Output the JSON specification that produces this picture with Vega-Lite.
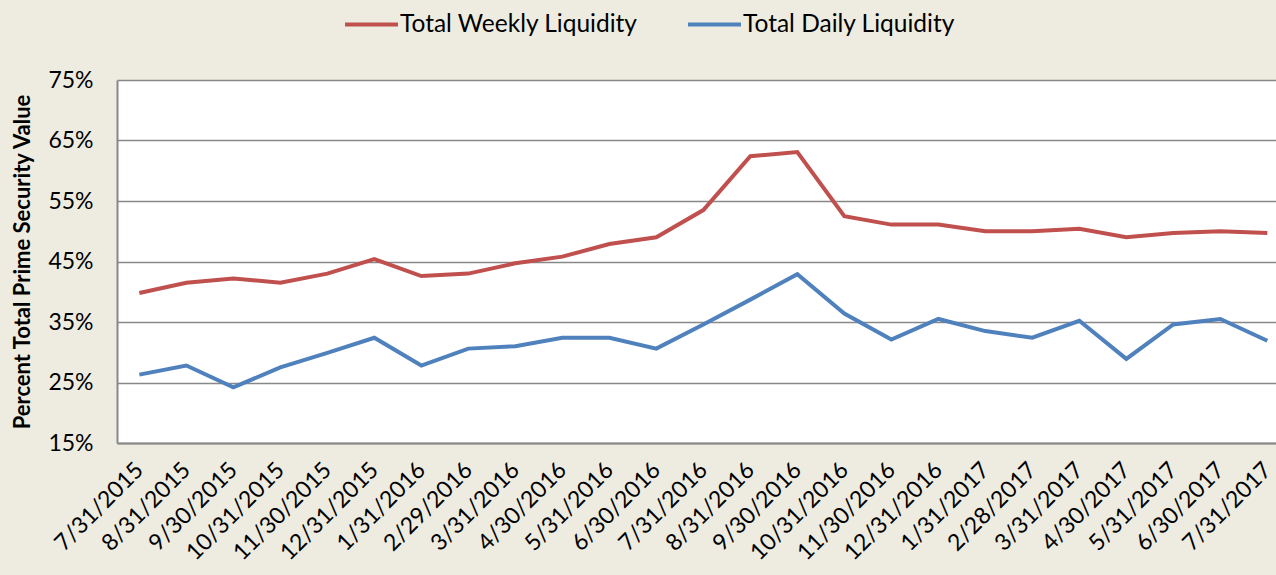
{
  "$schema": "https://vega.github.io/schema/vega-lite/v6.json",
  "autosize": {"type": "none"},
  "padding": {"left": 117, "top": 80, "right": 0, "bottom": 132},
  "width": 1159,
  "height": 363,
  "background": "#EEECE1",
  "config": {
    "view": {"fill": "white", "stroke": null},
    "font": "Lato"
  },
  "data": {
    "values": [
      {"date": "7/31/2015", "Total Weekly Liquidity": 39.8, "Total Daily Liquidity": 26.3},
      {"date": "8/31/2015", "Total Weekly Liquidity": 41.5, "Total Daily Liquidity": 27.8},
      {"date": "9/30/2015", "Total Weekly Liquidity": 42.2, "Total Daily Liquidity": 24.2},
      {"date": "10/31/2015", "Total Weekly Liquidity": 41.5, "Total Daily Liquidity": 27.5},
      {"date": "11/30/2015", "Total Weekly Liquidity": 43.0, "Total Daily Liquidity": 29.9},
      {"date": "12/31/2015", "Total Weekly Liquidity": 45.4, "Total Daily Liquidity": 32.4},
      {"date": "1/31/2016", "Total Weekly Liquidity": 42.6, "Total Daily Liquidity": 27.8},
      {"date": "2/29/2016", "Total Weekly Liquidity": 43.0, "Total Daily Liquidity": 30.6},
      {"date": "3/31/2016", "Total Weekly Liquidity": 44.7, "Total Daily Liquidity": 31.0},
      {"date": "4/30/2016", "Total Weekly Liquidity": 45.8, "Total Daily Liquidity": 32.4},
      {"date": "5/31/2016", "Total Weekly Liquidity": 47.9, "Total Daily Liquidity": 32.4},
      {"date": "6/30/2016", "Total Weekly Liquidity": 49.0, "Total Daily Liquidity": 30.6},
      {"date": "7/31/2016", "Total Weekly Liquidity": 53.5, "Total Daily Liquidity": 34.6},
      {"date": "8/31/2016", "Total Weekly Liquidity": 62.4, "Total Daily Liquidity": 38.7},
      {"date": "9/30/2016", "Total Weekly Liquidity": 63.1, "Total Daily Liquidity": 42.9},
      {"date": "10/31/2016", "Total Weekly Liquidity": 52.5, "Total Daily Liquidity": 36.4},
      {"date": "11/30/2016", "Total Weekly Liquidity": 51.1, "Total Daily Liquidity": 32.1},
      {"date": "12/31/2016", "Total Weekly Liquidity": 51.1, "Total Daily Liquidity": 35.5},
      {"date": "1/31/2017", "Total Weekly Liquidity": 50.0, "Total Daily Liquidity": 33.5},
      {"date": "2/28/2017", "Total Weekly Liquidity": 50.0, "Total Daily Liquidity": 32.4},
      {"date": "3/31/2017", "Total Weekly Liquidity": 50.4, "Total Daily Liquidity": 35.2},
      {"date": "4/30/2017", "Total Weekly Liquidity": 49.0, "Total Daily Liquidity": 28.9},
      {"date": "5/31/2017", "Total Weekly Liquidity": 49.7, "Total Daily Liquidity": 34.6},
      {"date": "6/30/2017", "Total Weekly Liquidity": 50.0, "Total Daily Liquidity": 35.5},
      {"date": "7/31/2017", "Total Weekly Liquidity": 49.7, "Total Daily Liquidity": 31.9}
    ]
  },
  "transform": [
    {"fold": ["Total Weekly Liquidity", "Total Daily Liquidity"], "as": ["series", "value"]}
  ],
  "mark": {"type": "line", "strokeWidth": 4, "clip": false},
  "encoding": {
    "x": {
      "field": "date",
      "type": "ordinal",
      "sort": null,
      "scale": {"type": "point", "padding": 0.33, "align": 0.72},
      "axis": {
        "title": null,
        "ticks": false,
        "domainColor": "#888888",
        "domainWidth": 2,
        "labelAngle": -45,
        "labelAlign": "right",
        "labelBaseline": "middle",
        "labelFontSize": 23,
        "labelColor": "#000000",
        "labelPadding": 23,
        "labelOverlap": false
      }
    },
    "y": {
      "field": "value",
      "type": "quantitative",
      "scale": {"domain": [15, 75], "nice": false, "zero": false},
      "axis": {
        "values": [15, 25, 35, 45, 55, 65, 75],
        "labelExpr": "datum.value + '%'",
        "title": "Percent Total Prime Security Value",
        "titleFontSize": 22,
        "titleFontWeight": "bold",
        "titleColor": "#000000",
        "titlePadding": 13,
        "ticks": false,
        "domainColor": "#888888",
        "domainWidth": 2,
        "grid": true,
        "gridColor": "#888888",
        "gridWidth": 1.5,
        "labelFontSize": 23,
        "labelColor": "#000000",
        "labelPadding": 24
      }
    },
    "color": {
      "field": "series",
      "type": "nominal",
      "scale": {
        "domain": ["Total Weekly Liquidity", "Total Daily Liquidity"],
        "range": ["#C0504D", "#4F81BD"]
      },
      "legend": {
        "title": null,
        "orient": "none",
        "direction": "horizontal",
        "legendX": 226,
        "legendY": -84,
        "padding": 0,
        "symbolType": "stroke",
        "symbolSize": 2809,
        "symbolStrokeWidth": 4,
        "labelFontSize": 24.5,
        "labelColor": "#000000",
        "labelLimit": 400,
        "labelOffset": 0,
        "columnPadding": 42
      }
    }
  }
}
